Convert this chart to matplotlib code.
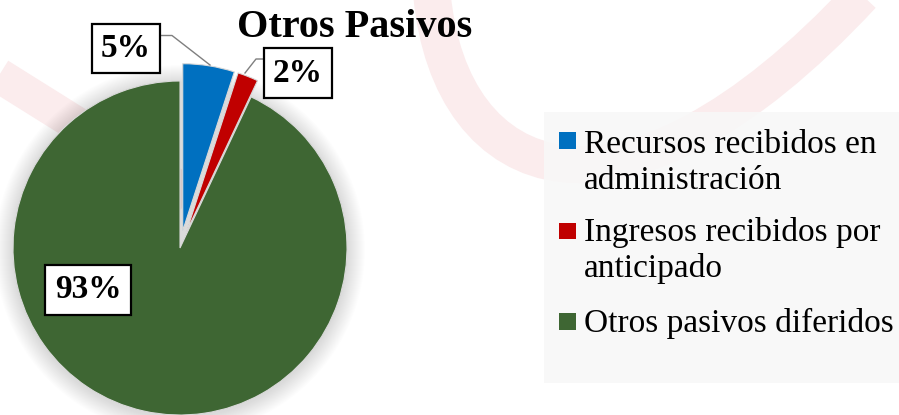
import matplotlib.pyplot as plt
from matplotlib.patches import Circle, Rectangle, PathPatch
from matplotlib.path import Path

plt.rcParams['font.family'] = ['Liberation Serif', 'DejaVu Serif']

# datos
categorias = ["Recursos recibidos en\nadministración",
              "Ingresos recibidos por\nanticipado",
              "Otros pasivos diferidos"]
valores = [5, 2, 93]
etiquetas = ["5%", "2%", "93%"]
colores = ["#0070C0", "#C00000", "#3E6633"]

W, H = 899, 415
fig = plt.figure(figsize=(W / 100, H / 100), dpi=100)
ax = fig.add_axes([0, 0, 1, 1])


def py(y):
    # coordenada y en pixeles (desde arriba) a datos
    return H - y


# marca de agua
rosa = "#fbeced"
curva = Path([(432, py(-5)), (450, py(185)), (620, py(255)), (862, py(-5))],
             [Path.MOVETO, Path.CURVE4, Path.CURVE4, Path.CURVE4])
ax.add_patch(PathPatch(curva, fc="none", ec=rosa, lw=27, zorder=0))
ax.plot([-20, 190], [py(63.5), py(195)], color=rosa, lw=25,
        solid_capstyle="butt", zorder=0)

# leyenda (fondo gris)
ax.add_patch(Rectangle((544, py(383)), 360, 271, facecolor="#f8f8f8",
                       edgecolor="none", alpha=0.9, zorder=1))

# sombra difusa del pastel
cx, cy, r = 180, py(248), 167
for k in range(18, 0, -1):
    ax.add_patch(Circle((cx, cy - 2), r + k, color="black", alpha=0.006,
                        lw=0, zorder=1))

wedges, _ = ax.pie(valores, colors=colores, startangle=90,
                   counterclock=False, explode=[17.5, 17.5, 0],
                   center=(cx, cy), radius=r,
                   wedgeprops=dict(edgecolor="#d9d9d9", linewidth=0.8))
for w in wedges:
    w.set_zorder(2)

ax.set_xlim(0, W)
ax.set_ylim(0, H)
ax.set_aspect("equal", adjustable="datalim")
ax.axis("off")

# etiquetas de datos
pos = [(126, 48.5), (298, 73), (88, 290)]
for t, (x, y) in zip(etiquetas, pos):
    ax.text(x, py(y), t, ha="center", va="center", fontsize=24,
            fontweight="bold", zorder=5,
            bbox=dict(boxstyle="square,pad=0.28", fc="white", ec="black", lw=1.6))

# lineas guia
ax.plot([160, 172, 210], [py(35.5), py(35.5), py(65)], color="#7f7f7f",
        lw=1, zorder=4)
ax.plot([266, 256, 245], [py(59), py(59), py(73)], color="#7f7f7f",
        lw=1, zorder=4)

ax.text(355, py(28), "Otros Pasivos", ha="center", va="center",
        fontsize=29, fontweight="bold", zorder=5)

# leyenda: marcador alineado con la primera linea de cada entrada
y_marca = [149, 239.5, 329.5]      # borde inferior del marcador
y_base = [189, 277, 331.5]         # linea base de la ultima linea
for cat, col, ym, yb in zip(categorias, colores, y_marca, y_base):
    ax.add_patch(Rectangle((559, py(ym)), 17, 16.5, facecolor=col,
                           edgecolor="none", zorder=3))
    ax.text(584, py(yb), cat, ha="left", va="baseline", fontsize=24,
            linespacing=1.22, zorder=3)

fig.savefig("out.png", dpi=100)
